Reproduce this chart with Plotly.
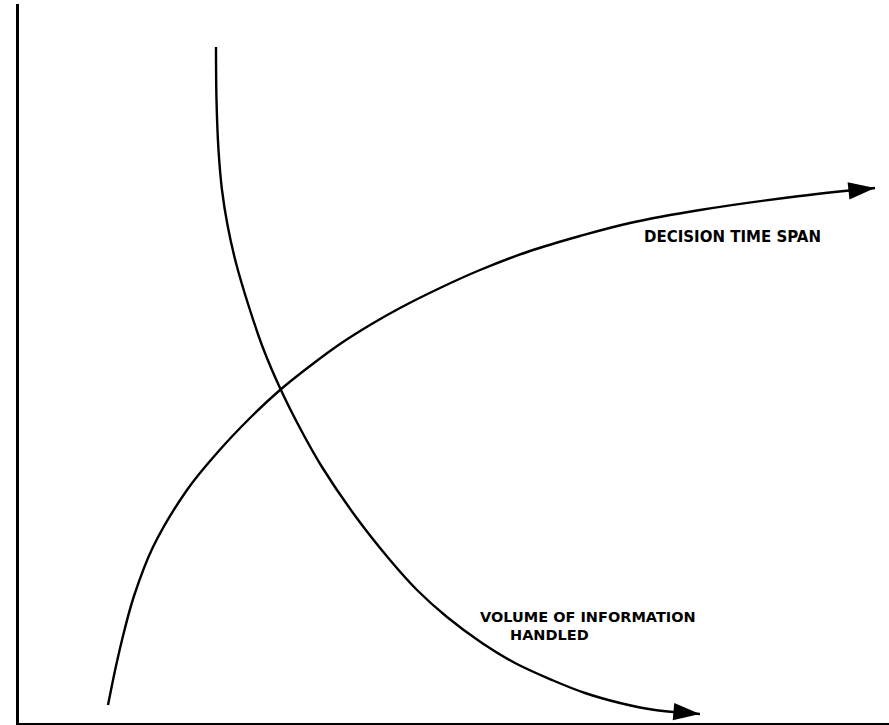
import plotly.graph_objects as go

# curve traces (x to the right, y upward from the baseline)
decision_x = [108, 111, 116, 124, 134, 153, 187, 217, 250, 280, 310, 340, 370, 400,
              440, 480, 530, 580, 630, 700, 800, 875]
decision_y = [20, 35, 59, 93, 129, 178, 235, 272, 307, 335, 359, 381, 400, 417,
              437, 455, 474, 489, 502, 515, 529, 537]

volume_x = [216, 216.5, 218.5, 222, 227.5, 236, 249, 263, 280, 301, 322, 356, 390,
            417, 447, 482, 515, 552, 585, 620, 655, 700]
volume_y = [678, 625, 575, 535, 500, 462, 418, 377, 337, 295, 258, 208, 165,
            135, 108, 82, 62, 45, 32, 22, 15, 11]

LABEL_DECISION = "DECISION TIME SPAN"
LABEL_VOLUME = ["VOLUME OF INFORMATION", "HANDLED"]


def curve(xs, ys, name):
    sizes = [0] * (len(xs) - 1) + [28]
    return go.Scatter(
        x=xs, y=ys, mode="lines+markers", name=name,
        line=dict(color="black", width=2.4, shape="spline", smoothing=1),
        marker=dict(symbol="arrow", angleref="previous", size=sizes, color="black",
                    opacity=1, line=dict(width=0)),
        hoverinfo="skip", showlegend=False,
    )


fig = go.Figure()
fig.add_trace(curve(decision_x, decision_y, "Decision time span"))
fig.add_trace(curve(volume_x, volume_y, "Volume of information handled"))

fig.add_annotation(x=642, y=725 - 237, text=f"<b>{LABEL_DECISION}</b>", showarrow=False,
                   xanchor="left", yanchor="middle",
                   font=dict(family="DejaVu Sans", size=15, color="black"))
fig.add_annotation(x=478, y=725 - 617, text=f"<b>{LABEL_VOLUME[0]}</b>", showarrow=False,
                   xanchor="left", yanchor="middle",
                   font=dict(family="DejaVu Sans", size=14.5, color="black"))
fig.add_annotation(x=508, y=725 - 635, text=f"<b>{LABEL_VOLUME[1]}</b>", showarrow=False,
                   xanchor="left", yanchor="middle",
                   font=dict(family="DejaVu Sans", size=14.5, color="black"))

fig.update_xaxes(range=[19, 889], showgrid=False, zeroline=False, showticklabels=False,
                 ticks="", showline=True, linecolor="black", linewidth=2)
fig.update_yaxes(range=[2, 721], showgrid=False, zeroline=False, showticklabels=False,
                 ticks="", showline=True, linecolor="black", linewidth=3)
fig.update_layout(
    width=889, height=725,
    margin=dict(l=19, r=0, t=4, b=2),
    plot_bgcolor="white", paper_bgcolor="white",
)

# drop the browser's default 8px page margin so the figure sits at the window origin
fig.write_html("out.html", config={"displayModeBar": False},
               post_script="document.body.style.margin='0';")
